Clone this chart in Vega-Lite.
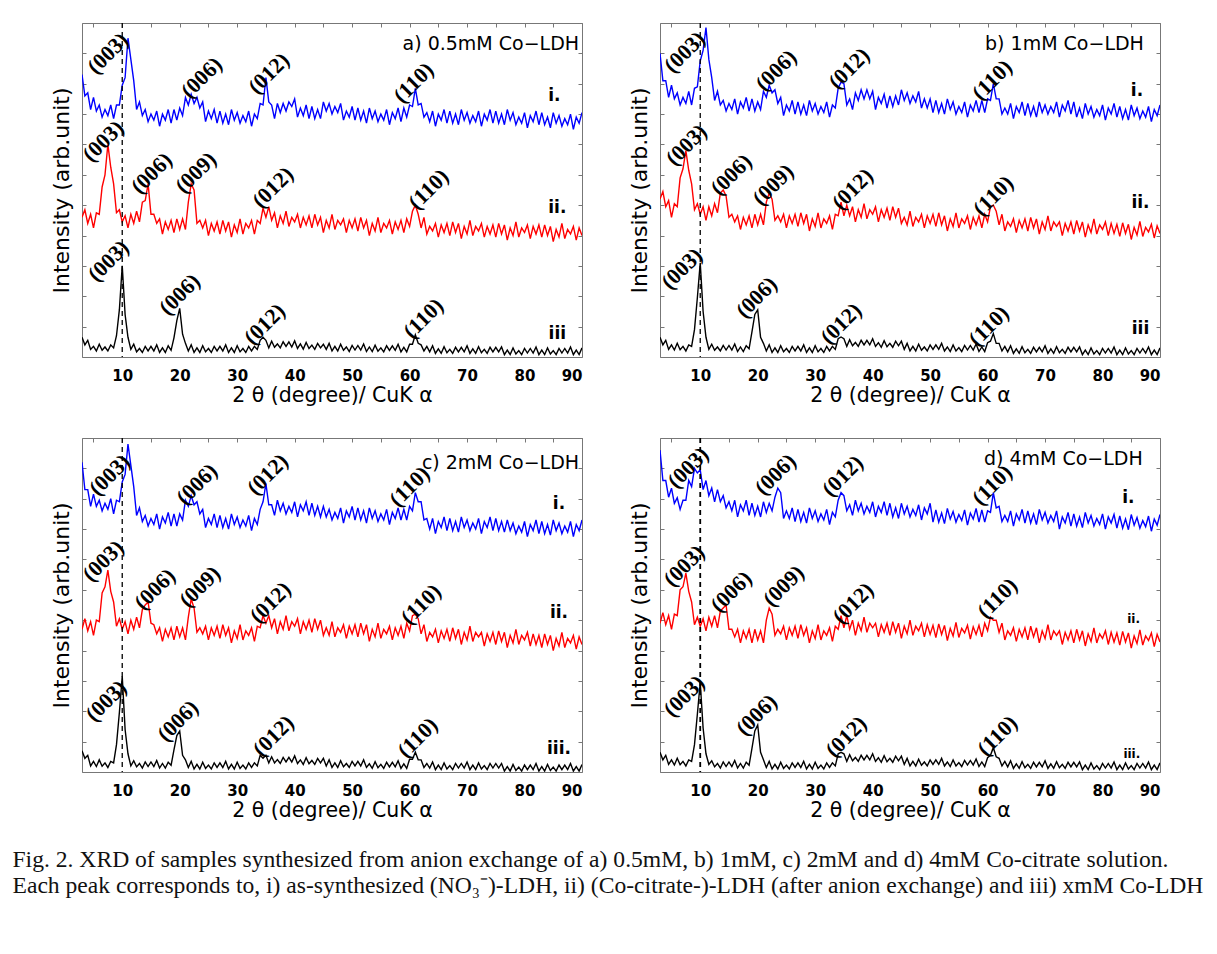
{
"$schema": "https://vega.github.io/schema/vega-lite/v6.json",
"background": "white",
"padding": {"left": 12, "top": 22, "right": 4, "bottom": 6},
"config": {"view": {"stroke": null}, "axis": {"domainColor": "#777", "tickColor": "#777", "domainWidth": 1, "tickWidth": 1, "grid": false}},
"title": {"text": ["Fig. 2. XRD of samples synthesized from anion exchange of a) 0.5mM, b) 1mM, c) 2mM and d) 4mM Co-citrate solution.", "Each peak corresponds to, i) as-synthesized (NO₃⁻)-LDH, ii) (Co-citrate-)-LDH (after anion exchange) and iii) xmM Co-LDH"], "orient": "bottom", "anchor": "start", "font": "Liberation Serif", "fontSize": 23.6, "fontWeight": "normal", "lineHeight": 26, "color": "#111", "offset": 27, "dx": -38},
"datasets": {
"a": [
{"x":3,"i":93,"ii":46,"iii":6.5},{"x":3.5,"i":86,"ii":48.5,"iii":4},{"x":4,"i":87,"ii":44,"iii":5.5},{"x":4.5,"i":81.5,"ii":47,"iii":2.5},{"x":5,"i":85.5,"ii":42.5,"iii":3.5},{"x":5.5,"i":81,"ii":47.5,"iii":2},{"x":6,"i":83,"ii":47,"iii":4.2},{"x":6.5,"i":79,"ii":56,"iii":2.2},{"x":7,"i":81.5,"ii":60,"iii":3.3},{"x":7.5,"i":79.5,"ii":70,"iii":2},
{"x":8,"i":83,"ii":62.5,"iii":4},{"x":8.5,"i":78.5,"ii":57,"iii":3},{"x":9,"i":83,"ii":47.5,"iii":7},{"x":9.5,"i":83,"ii":48.5,"iii":15.5},{"x":10,"i":89.5,"ii":44.5,"iii":30},{"x":10.5,"i":92,"ii":46.5,"iii":14},{"x":11,"i":105,"ii":42.5,"iii":6.5},{"x":11.5,"i":98,"ii":47,"iii":2.5},{"x":12,"i":91,"ii":44,"iii":4.2},{"x":12.5,"i":81.5,"ii":48,"iii":1.7},
{"x":13,"i":84,"ii":44.5,"iii":2.8},{"x":13.5,"i":79.5,"ii":51,"iii":1.5},{"x":14,"i":81.5,"ii":51.5,"iii":3.5},{"x":14.5,"i":77.5,"ii":57,"iii":2},{"x":15,"i":80,"ii":47,"iii":3.5},{"x":15.5,"i":78,"ii":47,"iii":2},{"x":16,"i":81,"ii":44,"iii":4},{"x":16.5,"i":76,"ii":45.5,"iii":1.5},{"x":17,"i":80,"ii":40.5,"iii":3},{"x":17.5,"i":78,"ii":44.5,"iii":1.5},
{"x":18,"i":81.5,"ii":42,"iii":3.7},{"x":18.5,"i":77,"ii":45,"iii":2.2},{"x":19,"i":81.5,"ii":41,"iii":6.3},{"x":19.5,"i":78,"ii":45.5,"iii":12},{"x":20,"i":82,"ii":42,"iii":16},{"x":20.5,"i":79.5,"ii":45.5,"iii":7.5},{"x":21,"i":85.5,"ii":42,"iii":4.5},{"x":21.5,"i":83,"ii":51,"iii":2},{"x":22,"i":86.5,"ii":57,"iii":4},{"x":22.5,"i":83.5,"ii":55,"iii":1.5},
{"x":23,"i":85.5,"ii":44,"iii":3},{"x":23.5,"i":82,"ii":45,"iii":1.5},{"x":24,"i":84,"ii":42.5,"iii":3.7},{"x":24.5,"i":77.5,"ii":45,"iii":1.7},{"x":25,"i":81,"ii":40,"iii":2.8},{"x":25.5,"i":78.5,"ii":44,"iii":1.5},{"x":26,"i":81.5,"ii":41.5,"iii":3.5},{"x":26.5,"i":77,"ii":44.5,"iii":2},{"x":27,"i":81,"ii":40.5,"iii":3.5},{"x":27.5,"i":77,"ii":45,"iii":2},
{"x":28,"i":80,"ii":41.5,"iii":4},{"x":28.5,"i":76.5,"ii":44.5,"iii":1.5},{"x":29,"i":81.5,"ii":39.5,"iii":3},{"x":29.5,"i":78,"ii":43.5,"iii":1.5},{"x":30,"i":80.5,"ii":41,"iii":3.7},{"x":30.5,"i":77,"ii":45.5,"iii":1.7},{"x":31,"i":79.5,"ii":40.5,"iii":2.8},{"x":31.5,"i":77.5,"ii":44,"iii":1.5},{"x":32,"i":81,"ii":42.5,"iii":3.5},{"x":32.5,"i":76,"ii":45,"iii":2},
{"x":33,"i":80,"ii":40.5,"iii":3.5},{"x":33.5,"i":78.5,"ii":45,"iii":2.5},{"x":34,"i":83.5,"ii":44,"iii":5.5},{"x":34.5,"i":83,"ii":49,"iii":6.5},{"x":35,"i":92,"ii":46,"iii":5.5},{"x":35.5,"i":84,"ii":49.5,"iii":3},{"x":36,"i":83,"ii":45,"iii":5.2},{"x":36.5,"i":78.5,"ii":47.5,"iii":3.2},{"x":37,"i":83.5,"ii":42.5,"iii":4.3},{"x":37.5,"i":80.5,"ii":46.5,"iii":3},
{"x":38,"i":83.5,"ii":44,"iii":5},{"x":38.5,"i":81,"ii":48,"iii":3.5},{"x":39,"i":84,"ii":43,"iii":5},{"x":39.5,"i":82.5,"ii":46,"iii":3.3},{"x":40,"i":85,"ii":44.5,"iii":5.3},{"x":40.5,"i":79,"ii":47,"iii":2.8},{"x":41,"i":82,"ii":42.5,"iii":4.3},{"x":41.5,"i":79.5,"ii":46,"iii":2.6},{"x":42,"i":83,"ii":43.5,"iii":4.8},{"x":42.5,"i":78.5,"ii":46.5,"iii":2.8},
{"x":43,"i":82.5,"ii":42.5,"iii":3.9},{"x":43.5,"i":78.5,"ii":47,"iii":2.5},{"x":44,"i":81.5,"ii":43.5,"iii":4.5},{"x":44.5,"i":78.5,"ii":46,"iii":3},{"x":45,"i":84,"ii":41,"iii":4.2},{"x":45.5,"i":81,"ii":45,"iii":2.5},{"x":46,"i":83.5,"ii":42.5,"iii":4.5},{"x":46.5,"i":80,"ii":47,"iii":2},{"x":47,"i":82.5,"ii":42,"iii":3.5},{"x":47.5,"i":80.5,"ii":45,"iii":2},
{"x":48,"i":83.5,"ii":43.5,"iii":4.2},{"x":48.5,"i":78,"ii":45.5,"iii":2.2},{"x":49,"i":81,"ii":41,"iii":3.3},{"x":49.5,"i":79,"ii":45,"iii":1.8},{"x":50,"i":82.5,"ii":42.5,"iii":3.8},{"x":50.5,"i":78,"ii":45.5,"iii":2.3},{"x":51,"i":82,"ii":41.5,"iii":3.8},{"x":51.5,"i":78,"ii":46,"iii":2.3},{"x":52,"i":81,"ii":42.5,"iii":4.3},{"x":52.5,"i":77,"ii":45,"iii":1.8},
{"x":53,"i":82,"ii":40,"iii":3.3},{"x":53.5,"i":78.5,"ii":44,"iii":1.8},{"x":54,"i":81,"ii":41.5,"iii":3.9},{"x":54.5,"i":77.5,"ii":46,"iii":1.9},{"x":55,"i":80,"ii":41,"iii":3},{"x":55.5,"i":78,"ii":44,"iii":1.7},{"x":56,"i":81.5,"ii":42.5,"iii":3.7},{"x":56.5,"i":76.5,"ii":45,"iii":2.2},{"x":57,"i":80.5,"ii":40.5,"iii":3.7},{"x":57.5,"i":78.5,"ii":44.5,"iii":2.2},
{"x":58,"i":82,"ii":42,"iii":4.2},{"x":58.5,"i":77.5,"ii":45,"iii":1.7},{"x":59,"i":82,"ii":41,"iii":3.2},{"x":59.5,"i":79,"ii":45.5,"iii":1.7},{"x":60,"i":83,"ii":43,"iii":4.2},{"x":60.5,"i":82.5,"ii":48,"iii":4.2},{"x":61,"i":88.5,"ii":50,"iii":7.3},{"x":61.5,"i":83,"ii":47,"iii":4.5},{"x":62,"i":83.5,"ii":42.5,"iii":4},{"x":62.5,"i":79,"ii":46,"iii":2},
{"x":63,"i":80.5,"ii":40.5,"iii":3.5},{"x":63.5,"i":77.5,"ii":43,"iii":1.7},{"x":64,"i":81,"ii":41.5,"iii":3.7},{"x":64.5,"i":76,"ii":44,"iii":1.2},{"x":65,"i":80,"ii":39.5,"iii":2.7},{"x":65.5,"i":78,"ii":43.5,"iii":1.2},{"x":66,"i":81.5,"ii":41,"iii":3.4},{"x":66.5,"i":77,"ii":44,"iii":1.4},{"x":67,"i":81,"ii":40,"iii":2.5},{"x":67.5,"i":77,"ii":44.5,"iii":1.2},
{"x":68,"i":80,"ii":41,"iii":3.2},{"x":68.5,"i":76.5,"ii":44,"iii":1.7},{"x":69,"i":81.5,"ii":39,"iii":3.2},{"x":69.5,"i":78,"ii":43,"iii":1.7},{"x":70,"i":80.5,"ii":40.5,"iii":3.7},{"x":70.5,"i":77,"ii":45,"iii":1.2},{"x":71,"i":79.5,"ii":40,"iii":2.7},{"x":71.5,"i":77.5,"ii":43,"iii":1.2},{"x":72,"i":81,"ii":41.5,"iii":3.4},{"x":72.5,"i":76,"ii":44,"iii":1.4},
{"x":73,"i":80,"ii":39.5,"iii":2.5},{"x":73.5,"i":78,"ii":43,"iii":1.2},{"x":74,"i":81.5,"ii":40.5,"iii":3.2},{"x":74.5,"i":77,"ii":43.5,"iii":1.7},{"x":75,"i":81,"ii":39.5,"iii":3.2},{"x":75.5,"i":77,"ii":44,"iii":1.7},{"x":76,"i":80,"ii":40.5,"iii":3.3},{"x":76.5,"i":76.5,"ii":43.5,"iii":0.8},{"x":77,"i":81.5,"ii":38.5,"iii":2.3},{"x":77.5,"i":78,"ii":42.5,"iii":0.8},
{"x":78,"i":80.5,"ii":40,"iii":3},{"x":78.5,"i":76.5,"ii":44.5,"iii":1},{"x":79,"i":79,"ii":39.5,"iii":2.1},{"x":79.5,"i":77,"ii":42.5,"iii":0.8},{"x":80,"i":80.5,"ii":41,"iii":2.8},{"x":80.5,"i":75.5,"ii":43.5,"iii":1.3},{"x":81,"i":79.5,"ii":39,"iii":2.8},{"x":81.5,"i":77.5,"ii":43,"iii":1.3},{"x":82,"i":81,"ii":40.5,"iii":3.3},{"x":82.5,"i":76.5,"ii":43.5,"iii":0.8},
{"x":83,"i":80.5,"ii":39.5,"iii":2.3},{"x":83.5,"i":76.5,"ii":43.5,"iii":0.8},{"x":84,"i":79,"ii":40,"iii":3},{"x":84.5,"i":75.5,"ii":43,"iii":1},{"x":85,"i":80.5,"ii":38,"iii":2.1},{"x":85.5,"i":77,"ii":42,"iii":0.8},{"x":86,"i":79.5,"ii":39.5,"iii":2.8},{"x":86.5,"i":76,"ii":44,"iii":1.3},{"x":87,"i":78.5,"ii":39,"iii":2.8},{"x":87.5,"i":76.5,"ii":42,"iii":1.3},
{"x":88,"i":80,"ii":40.5,"iii":3.3},{"x":88.5,"i":75,"ii":43,"iii":0.8},{"x":89,"i":79,"ii":38.5,"iii":2.3},{"x":89.5,"i":77,"ii":42.5,"iii":0.8},{"x":90,"i":80.5,"ii":40,"iii":3}
],
"b": [
{"x":3,"i":100,"ii":52,"iii":6.5},{"x":3.5,"i":91,"ii":54.5,"iii":4},{"x":4,"i":91,"ii":49.5,"iii":5.5},{"x":4.5,"i":85.5,"ii":51.5,"iii":2.5},{"x":5,"i":89.5,"ii":46,"iii":4},{"x":5.5,"i":85,"ii":50.5,"iii":2.3},{"x":6,"i":87,"ii":49.5,"iii":4.5},{"x":6.5,"i":83,"ii":59,"iii":2.4},{"x":7,"i":85.5,"ii":62,"iii":3.5},{"x":7.5,"i":83.5,"ii":68,"iii":2},
{"x":8,"i":87.5,"ii":61.5,"iii":4},{"x":8.5,"i":83,"ii":57,"iii":3.5},{"x":9,"i":88.5,"ii":48.5,"iii":9},{"x":9.5,"i":89,"ii":50.5,"iii":19.5},{"x":10,"i":97.5,"ii":47,"iii":31},{"x":10.5,"i":101,"ii":49.5,"iii":15},{"x":11,"i":108.5,"ii":45,"iii":6.5},{"x":11.5,"i":98,"ii":49.5,"iii":2.5},{"x":12,"i":92,"ii":46.5,"iii":4.2},{"x":12.5,"i":84.5,"ii":50.5,"iii":2.2},
{"x":13,"i":87.5,"ii":47.5,"iii":3.3},{"x":13.5,"i":83,"ii":54,"iii":2},{"x":14,"i":84.5,"ii":55,"iii":3.8},{"x":14.5,"i":81,"ii":53,"iii":2.3},{"x":15,"i":83.5,"ii":46,"iii":3.8},{"x":15.5,"i":81.5,"ii":47,"iii":2.3},{"x":16,"i":85,"ii":44.5,"iii":4.3},{"x":16.5,"i":80,"ii":46.5,"iii":1.8},{"x":17,"i":84,"ii":42,"iii":3.3},{"x":17.5,"i":82,"ii":46,"iii":1.8},
{"x":18,"i":85.5,"ii":43.5,"iii":3.7},{"x":18.5,"i":81,"ii":46.5,"iii":2.7},{"x":19,"i":85,"ii":42.5,"iii":8.3},{"x":19.5,"i":81,"ii":47,"iii":14},{"x":20,"i":84,"ii":43.5,"iii":15.5},{"x":20.5,"i":81.5,"ii":47,"iii":6.5},{"x":21,"i":87.5,"ii":43.5,"iii":4.5},{"x":21.5,"i":85.5,"ii":51,"iii":2},{"x":22,"i":89.5,"ii":54,"iii":4},{"x":22.5,"i":87,"ii":52,"iii":1.5},
{"x":23,"i":88,"ii":45,"iii":3},{"x":23.5,"i":83.5,"ii":46.5,"iii":1.5},{"x":24,"i":85.5,"ii":44.5,"iii":3.7},{"x":24.5,"i":79.5,"ii":47,"iii":1.7},{"x":25,"i":83,"ii":42.5,"iii":2.8},{"x":25.5,"i":81,"ii":46.5,"iii":1.5},{"x":26,"i":84.5,"ii":44,"iii":3.5},{"x":26.5,"i":80,"ii":47,"iii":2},{"x":27,"i":84,"ii":43,"iii":3.5},{"x":27.5,"i":80,"ii":47.5,"iii":2},
{"x":28,"i":83,"ii":44,"iii":4},{"x":28.5,"i":79.5,"ii":47,"iii":1.5},{"x":29,"i":84.5,"ii":41.5,"iii":3},{"x":29.5,"i":81,"ii":45.5,"iii":1.5},{"x":30,"i":83.5,"ii":43,"iii":3.7},{"x":30.5,"i":80,"ii":47.5,"iii":1.7},{"x":31,"i":82.5,"ii":42.5,"iii":2.8},{"x":31.5,"i":80.5,"ii":45.5,"iii":1.5},{"x":32,"i":84,"ii":44,"iii":3.5},{"x":32.5,"i":79,"ii":46.5,"iii":2},
{"x":33,"i":83,"ii":42,"iii":3.5},{"x":33.5,"i":82,"ii":47,"iii":2.5},{"x":34,"i":88.5,"ii":46.5,"iii":6},{"x":34.5,"i":90.5,"ii":51,"iii":6.6},{"x":35,"i":90,"ii":46.5,"iii":6},{"x":35.5,"i":83,"ii":50,"iii":3.5},{"x":36,"i":85,"ii":46.5,"iii":5.7},{"x":36.5,"i":81.5,"ii":49.5,"iii":3.7},{"x":37,"i":87,"ii":44.5,"iii":4.8},{"x":37.5,"i":84.5,"ii":48.5,"iii":3.5},
{"x":38,"i":88,"ii":46,"iii":5.5},{"x":38.5,"i":85,"ii":50.5,"iii":4},{"x":39,"i":88,"ii":45.5,"iii":5.5},{"x":39.5,"i":85,"ii":48.5,"iii":4},{"x":40,"i":87.5,"ii":47,"iii":6},{"x":40.5,"i":81.5,"ii":49.5,"iii":3.5},{"x":41,"i":85.5,"ii":44.5,"iii":4.7},{"x":41.5,"i":83.5,"ii":48.5,"iii":3.2},{"x":42,"i":86.5,"ii":46,"iii":5.4},{"x":42.5,"i":82,"ii":49,"iii":3.4},
{"x":43,"i":86,"ii":45,"iii":4.5},{"x":43.5,"i":82.5,"ii":49.5,"iii":3.2},{"x":44,"i":86,"ii":46,"iii":5.2},{"x":44.5,"i":83,"ii":49,"iii":3.7},{"x":45,"i":88,"ii":44,"iii":5.2},{"x":45.5,"i":84.5,"ii":46,"iii":2.5},{"x":46,"i":87,"ii":43.5,"iii":4.5},{"x":46.5,"i":83.5,"ii":48,"iii":2},{"x":47,"i":86,"ii":43,"iii":3.5},{"x":47.5,"i":84,"ii":46,"iii":2},
{"x":48,"i":87.5,"ii":44.5,"iii":4.2},{"x":48.5,"i":82,"ii":47,"iii":2.2},{"x":49,"i":85,"ii":42.5,"iii":3.3},{"x":49.5,"i":82,"ii":46.5,"iii":2},{"x":50,"i":85,"ii":44,"iii":4},{"x":50.5,"i":80.5,"ii":47,"iii":2.5},{"x":51,"i":84.5,"ii":43,"iii":4},{"x":51.5,"i":80.5,"ii":47.5,"iii":2.5},{"x":52,"i":83.5,"ii":43.5,"iii":4.5},{"x":52.5,"i":80,"ii":46.5,"iii":2},
{"x":53,"i":85,"ii":41.5,"iii":3.3},{"x":53.5,"i":81.5,"ii":45.5,"iii":1.8},{"x":54,"i":84,"ii":43,"iii":4},{"x":54.5,"i":80,"ii":47.5,"iii":2},{"x":55,"i":82.5,"ii":42.5,"iii":3.1},{"x":55.5,"i":80.5,"ii":45.5,"iii":1.8},{"x":56,"i":84,"ii":44,"iii":3.8},{"x":56.5,"i":79,"ii":46.5,"iii":2.3},{"x":57,"i":83,"ii":42,"iii":3.8},{"x":57.5,"i":81,"ii":46,"iii":2.3},
{"x":58,"i":84.5,"ii":43.5,"iii":4.3},{"x":58.5,"i":80.5,"ii":46.5,"iii":1.8},{"x":59,"i":84.5,"ii":42.5,"iii":3.3},{"x":59.5,"i":80.5,"ii":47,"iii":1.8},{"x":60,"i":85,"ii":44.5,"iii":4.7},{"x":60.5,"i":84.5,"ii":49.5,"iii":5.2},{"x":61,"i":90,"ii":50,"iii":7.7},{"x":61.5,"i":85,"ii":48,"iii":4.5},{"x":62,"i":85,"ii":43.5,"iii":4.5},{"x":62.5,"i":80,"ii":47,"iii":2},
{"x":63,"i":82,"ii":41.5,"iii":3.5},{"x":63.5,"i":80,"ii":44.5,"iii":1.7},{"x":64,"i":83.5,"ii":43,"iii":3.7},{"x":64.5,"i":78.5,"ii":45.5,"iii":1.2},{"x":65,"i":82.5,"ii":41,"iii":2.7},{"x":65.5,"i":80.5,"ii":45,"iii":1.2},{"x":66,"i":84,"ii":42.5,"iii":3.4},{"x":66.5,"i":79.5,"ii":45.5,"iii":1.4},{"x":67,"i":83.5,"ii":41.5,"iii":2.5},{"x":67.5,"i":79.5,"ii":46,"iii":1.2},
{"x":68,"i":82.5,"ii":42.5,"iii":3.2},{"x":68.5,"i":79,"ii":45.5,"iii":1.7},{"x":69,"i":84,"ii":40.5,"iii":3.2},{"x":69.5,"i":80.5,"ii":44.5,"iii":1.7},{"x":70,"i":83,"ii":42,"iii":3.7},{"x":70.5,"i":80,"ii":46.5,"iii":1.2},{"x":71,"i":82.5,"ii":41.5,"iii":2.7},{"x":71.5,"i":80.5,"ii":44.5,"iii":1.2},{"x":72,"i":84,"ii":43,"iii":3.4},{"x":72.5,"i":79,"ii":44.5,"iii":1.4},
{"x":73,"i":83,"ii":40,"iii":2.5},{"x":73.5,"i":81,"ii":44,"iii":1.2},{"x":74,"i":84.5,"ii":41.5,"iii":3.2},{"x":74.5,"i":80,"ii":44.5,"iii":1.7},{"x":75,"i":84,"ii":40.5,"iii":3.2},{"x":75.5,"i":79,"ii":45,"iii":1.7},{"x":76,"i":82,"ii":41.5,"iii":3.3},{"x":76.5,"i":78.5,"ii":44.5,"iii":0.8},{"x":77,"i":83.5,"ii":39.5,"iii":2.3},{"x":77.5,"i":80,"ii":43.5,"iii":0.8},
{"x":78,"i":82.5,"ii":41,"iii":3},{"x":78.5,"i":79,"ii":45.5,"iii":1},{"x":79,"i":81.5,"ii":40.5,"iii":2.1},{"x":79.5,"i":79.5,"ii":43.5,"iii":0.8},{"x":80,"i":83,"ii":42,"iii":2.8},{"x":80.5,"i":78,"ii":44.5,"iii":1.3},{"x":81,"i":82,"ii":40,"iii":2.8},{"x":81.5,"i":80,"ii":44,"iii":1.3},{"x":82,"i":83.5,"ii":40.7,"iii":3.3},{"x":82.5,"i":79,"ii":43.7,"iii":0.8},
{"x":83,"i":82.5,"ii":39.7,"iii":2.3},{"x":83.5,"i":78.5,"ii":44.2,"iii":0.8},{"x":84,"i":81.5,"ii":40.7,"iii":3},{"x":84.5,"i":78,"ii":43.7,"iii":1},{"x":85,"i":83,"ii":38.7,"iii":2.1},{"x":85.5,"i":79.5,"ii":42.7,"iii":0.8},{"x":86,"i":82,"ii":40.2,"iii":2.8},{"x":86.5,"i":78.5,"ii":44.7,"iii":1.3},{"x":87,"i":81,"ii":39.7,"iii":2.8},{"x":87.5,"i":79,"ii":42.7,"iii":1.3},
{"x":88,"i":82.5,"ii":41.2,"iii":3.3},{"x":88.5,"i":77.5,"ii":43.7,"iii":0.8},{"x":89,"i":81.5,"ii":39.2,"iii":2.3},{"x":89.5,"i":79.5,"ii":43.2,"iii":0.8},{"x":90,"i":83,"ii":40.7,"iii":3}
],
"c": [
{"x":3,"i":102,"ii":47,"iii":7},{"x":3.5,"i":93,"ii":50.5,"iii":4.5},{"x":4,"i":93,"ii":46.5,"iii":5.5},{"x":4.5,"i":87.5,"ii":49.5,"iii":2},{"x":5,"i":91.5,"ii":45,"iii":3.5},{"x":5.5,"i":87.5,"ii":50,"iii":1.8},{"x":6,"i":89.5,"ii":49.5,"iii":4},{"x":6.5,"i":86,"ii":59,"iii":1.9},{"x":7,"i":88.5,"ii":61,"iii":3},{"x":7.5,"i":86.5,"ii":66.5,"iii":1.5},
{"x":8,"i":90,"ii":59.5,"iii":3.5},{"x":8.5,"i":85,"ii":56,"iii":3},{"x":9,"i":89.5,"ii":48,"iii":9},{"x":9.5,"i":89,"ii":50.5,"iii":19.5},{"x":10,"i":95.5,"ii":47,"iii":31.5},{"x":10.5,"i":98,"ii":49.5,"iii":14},{"x":11,"i":108,"ii":45.5,"iii":6},{"x":11.5,"i":101,"ii":50,"iii":2},{"x":12,"i":94,"ii":47,"iii":3.7},{"x":12.5,"i":84.5,"ii":51,"iii":1.7},
{"x":13,"i":87,"ii":47.5,"iii":2.8},{"x":13.5,"i":82.5,"ii":53.5,"iii":1.3},{"x":14,"i":84.5,"ii":55,"iii":3.3},{"x":14.5,"i":81,"ii":56,"iii":1.8},{"x":15,"i":83.5,"ii":49,"iii":3.3},{"x":15.5,"i":81.5,"ii":48.5,"iii":1.8},{"x":16,"i":85,"ii":45.5,"iii":3.8},{"x":16.5,"i":80,"ii":47.5,"iii":1.3},{"x":17,"i":84,"ii":43,"iii":2.8},{"x":17.5,"i":82,"ii":47,"iii":1.3},
{"x":18,"i":85.5,"ii":44.5,"iii":3.2},{"x":18.5,"i":81,"ii":47.5,"iii":2.2},{"x":19,"i":85,"ii":43.5,"iii":7.3},{"x":19.5,"i":81,"ii":48,"iii":12},{"x":20,"i":85,"ii":44.5,"iii":13.5},{"x":20.5,"i":83,"ii":47.5,"iii":5.5},{"x":21,"i":89.5,"ii":43.5,"iii":4},{"x":21.5,"i":87.5,"ii":51,"iii":1.5},{"x":22,"i":91,"ii":57,"iii":3.5},{"x":22.5,"i":88,"ii":54,"iii":1},
{"x":23,"i":89,"ii":46,"iii":2.5},{"x":23.5,"i":85,"ii":47.5,"iii":1},{"x":24,"i":86.5,"ii":45.5,"iii":3.2},{"x":24.5,"i":80.5,"ii":48,"iii":1.2},{"x":25,"i":83.5,"ii":43.5,"iii":2.3},{"x":25.5,"i":81.5,"ii":47.5,"iii":1},{"x":26,"i":85,"ii":45,"iii":3},{"x":26.5,"i":80.5,"ii":48,"iii":1.5},{"x":27,"i":84.5,"ii":44,"iii":3},{"x":27.5,"i":80.5,"ii":48.5,"iii":1.5},
{"x":28,"i":83.5,"ii":45,"iii":3.5},{"x":28.5,"i":80,"ii":47.5,"iii":1},{"x":29,"i":85,"ii":42.5,"iii":2.5},{"x":29.5,"i":81.5,"ii":46.5,"iii":1},{"x":30,"i":84,"ii":44,"iii":3.2},{"x":30.5,"i":80.5,"ii":48.5,"iii":1.2},{"x":31,"i":83,"ii":43.5,"iii":2.3},{"x":31.5,"i":81,"ii":46.5,"iii":1},{"x":32,"i":84.5,"ii":45,"iii":3},{"x":32.5,"i":79.5,"ii":47.5,"iii":1.5},
{"x":33,"i":83.5,"ii":43,"iii":3},{"x":33.5,"i":81.5,"ii":48,"iii":2},{"x":34,"i":86.5,"ii":47.5,"iii":5.5},{"x":34.5,"i":89,"ii":51.5,"iii":4.5},{"x":35,"i":95,"ii":49,"iii":5.5},{"x":35.5,"i":88,"ii":51.5,"iii":3},{"x":36,"i":88,"ii":47.5,"iii":5},{"x":36.5,"i":84.5,"ii":50.5,"iii":3},{"x":37,"i":89.5,"ii":45.5,"iii":4.1},{"x":37.5,"i":86,"ii":49.5,"iii":2.8},
{"x":38,"i":88.5,"ii":47,"iii":4.8},{"x":38.5,"i":85,"ii":51.5,"iii":3.3},{"x":39,"i":87.5,"ii":46.5,"iii":4.8},{"x":39.5,"i":85.5,"ii":49.5,"iii":3.3},{"x":40,"i":89,"ii":48,"iii":5.3},{"x":40.5,"i":84,"ii":50.5,"iii":2.8},{"x":41,"i":88,"ii":45.5,"iii":4},{"x":41.5,"i":86,"ii":49.5,"iii":2.5},{"x":42,"i":89,"ii":47,"iii":4.7},{"x":42.5,"i":84.5,"ii":50,"iii":2.7},
{"x":43,"i":88.5,"ii":46,"iii":3.8},{"x":43.5,"i":84.5,"ii":50.5,"iii":2.5},{"x":44,"i":87.5,"ii":47,"iii":4.5},{"x":44.5,"i":84,"ii":50,"iii":3},{"x":45,"i":87.5,"ii":45,"iii":4.5},{"x":45.5,"i":84,"ii":47.5,"iii":2},{"x":46,"i":86.5,"ii":45,"iii":4},{"x":46.5,"i":83,"ii":49.5,"iii":1.5},{"x":47,"i":85.5,"ii":44.5,"iii":3},{"x":47.5,"i":83.5,"ii":47.5,"iii":1.5},
{"x":48,"i":87,"ii":46,"iii":3.7},{"x":48.5,"i":82,"ii":48.5,"iii":1.7},{"x":49,"i":86,"ii":44,"iii":2.8},{"x":49.5,"i":84,"ii":48,"iii":1.5},{"x":50,"i":87.5,"ii":45.5,"iii":3.5},{"x":50.5,"i":83,"ii":48.5,"iii":2},{"x":51,"i":87,"ii":44.5,"iii":3.5},{"x":51.5,"i":83,"ii":49,"iii":2},{"x":52,"i":86,"ii":45.5,"iii":4},{"x":52.5,"i":82,"ii":48.5,"iii":1.5},
{"x":53,"i":87,"ii":43,"iii":2.7},{"x":53.5,"i":83.5,"ii":47,"iii":1.2},{"x":54,"i":86,"ii":44.5,"iii":3.4},{"x":54.5,"i":82.5,"ii":49,"iii":1.4},{"x":55,"i":85,"ii":44,"iii":2.5},{"x":55.5,"i":83,"ii":47,"iii":1.2},{"x":56,"i":86.5,"ii":45.5,"iii":3.2},{"x":56.5,"i":81.5,"ii":48,"iii":1.7},{"x":57,"i":85.5,"ii":43.5,"iii":3.2},{"x":57.5,"i":83.5,"ii":47.5,"iii":1.7},
{"x":58,"i":87,"ii":45,"iii":3.7},{"x":58.5,"i":83,"ii":48,"iii":1.2},{"x":59,"i":86.5,"ii":44,"iii":2.7},{"x":59.5,"i":83,"ii":49,"iii":1.2},{"x":60,"i":87.5,"ii":46.5,"iii":4.2},{"x":60.5,"i":86,"ii":51.5,"iii":4.2},{"x":61,"i":92,"ii":52,"iii":6.5},{"x":61.5,"i":89,"ii":50.5,"iii":4},{"x":62,"i":89,"ii":45.5,"iii":4},{"x":62.5,"i":83,"ii":48.5,"iii":1.5},
{"x":63,"i":83.5,"ii":43,"iii":2.8},{"x":63.5,"i":80,"ii":46,"iii":1.3},{"x":64,"i":83.5,"ii":44.5,"iii":3.3},{"x":64.5,"i":78.5,"ii":47,"iii":0.8},{"x":65,"i":82.5,"ii":42.5,"iii":2.3},{"x":65.5,"i":80.5,"ii":46.5,"iii":0.8},{"x":66,"i":84,"ii":44,"iii":3},{"x":66.5,"i":79.5,"ii":47,"iii":1},{"x":67,"i":83.5,"ii":43,"iii":2.1},{"x":67.5,"i":79.5,"ii":47.5,"iii":0.8},
{"x":68,"i":82.5,"ii":44,"iii":2.8},{"x":68.5,"i":79,"ii":47,"iii":1.3},{"x":69,"i":84,"ii":42,"iii":2.8},{"x":69.5,"i":80.5,"ii":46,"iii":1.3},{"x":70,"i":83,"ii":43.5,"iii":3.3},{"x":70.5,"i":79.5,"ii":48,"iii":0.8},{"x":71,"i":82,"ii":43,"iii":2.3},{"x":71.5,"i":80,"ii":46,"iii":0.8},{"x":72,"i":83.5,"ii":44.5,"iii":3},{"x":72.5,"i":78.5,"ii":46,"iii":1},
{"x":73,"i":82.5,"ii":41.5,"iii":2.1},{"x":73.5,"i":80.5,"ii":45.5,"iii":0.8},{"x":74,"i":84,"ii":43,"iii":2.8},{"x":74.5,"i":79.5,"ii":46,"iii":1.3},{"x":75,"i":83.5,"ii":42,"iii":2.8},{"x":75.5,"i":79.5,"ii":46.5,"iii":1.3},{"x":76,"i":82.5,"ii":43,"iii":2.8},{"x":76.5,"i":79,"ii":46,"iii":0.3},{"x":77,"i":83,"ii":41,"iii":1.8},{"x":77.5,"i":79.5,"ii":45,"iii":0.3},
{"x":78,"i":82,"ii":42.5,"iii":2.5},{"x":78.5,"i":78.5,"ii":47,"iii":0.5},{"x":79,"i":81,"ii":42,"iii":1.6},{"x":79.5,"i":79,"ii":45,"iii":0.3},{"x":80,"i":82.5,"ii":43.5,"iii":2.3},{"x":80.5,"i":77.5,"ii":46,"iii":0.8},{"x":81,"i":81.5,"ii":41.5,"iii":2.3},{"x":81.5,"i":79.5,"ii":45.5,"iii":0.8},{"x":82,"i":83,"ii":42,"iii":2.8},{"x":82.5,"i":78.5,"ii":45,"iii":0.3},
{"x":83,"i":82.5,"ii":41,"iii":1.8},{"x":83.5,"i":78.5,"ii":45.5,"iii":0.3},{"x":84,"i":81.5,"ii":42,"iii":2.5},{"x":84.5,"i":78,"ii":45,"iii":0.5},{"x":85,"i":83,"ii":40,"iii":1.6},{"x":85.5,"i":79.5,"ii":44,"iii":0.3},{"x":86,"i":82,"ii":41.5,"iii":2.3},{"x":86.5,"i":78.5,"ii":46,"iii":0.8},{"x":87,"i":81,"ii":41,"iii":2.3},{"x":87.5,"i":79,"ii":44,"iii":0.8},
{"x":88,"i":82.5,"ii":42.5,"iii":2.8},{"x":88.5,"i":77.5,"ii":45,"iii":0.3},{"x":89,"i":81.5,"ii":40.5,"iii":1.8},{"x":89.5,"i":79.5,"ii":44.5,"iii":0.3},{"x":90,"i":83,"ii":42,"iii":2.5}
],
"d": [
{"x":3,"i":106,"ii":49,"iii":6.5},{"x":3.5,"i":96,"ii":52.5,"iii":4},{"x":4,"i":96,"ii":48.5,"iii":5.5},{"x":4.5,"i":90.5,"ii":51.5,"iii":2.5},{"x":5,"i":93.5,"ii":47,"iii":4},{"x":5.5,"i":88.5,"ii":52,"iii":2.3},{"x":6,"i":90.3,"ii":51.5,"iii":4.5},{"x":6.5,"i":86.5,"ii":60,"iii":2.4},{"x":7,"i":89.5,"ii":61,"iii":3.5},{"x":7.5,"i":89.5,"ii":65.5,"iii":2},
{"x":8,"i":96,"ii":59.5,"iii":4},{"x":8.5,"i":94,"ii":56,"iii":3.5},{"x":9,"i":100,"ii":48.5,"iii":9},{"x":9.5,"i":98.5,"ii":51,"iii":19},{"x":10,"i":99.5,"ii":48,"iii":29.5},{"x":10.5,"i":93,"ii":50.5,"iii":14.5},{"x":11,"i":96,"ii":46.5,"iii":6},{"x":11.5,"i":91,"ii":51,"iii":2.5},{"x":12,"i":93.5,"ii":48,"iii":3.7},{"x":12.5,"i":89,"ii":51.5,"iii":1.7},
{"x":13,"i":93,"ii":47.5,"iii":2.8},{"x":13.5,"i":89,"ii":53,"iii":1.3},{"x":14,"i":91,"ii":54,"iii":3.3},{"x":14.5,"i":87,"ii":55,"iii":1.8},{"x":15,"i":89,"ii":47,"iii":3.3},{"x":15.5,"i":86,"ii":47,"iii":1.8},{"x":16,"i":89.5,"ii":44.5,"iii":3.8},{"x":16.5,"i":84,"ii":47,"iii":1.3},{"x":17,"i":88,"ii":42.5,"iii":2.8},{"x":17.5,"i":86,"ii":46.5,"iii":1.3},
{"x":18,"i":89.5,"ii":44,"iii":3.2},{"x":18.5,"i":84.5,"ii":47,"iii":2.2},{"x":19,"i":88.5,"ii":42.5,"iii":7.8},{"x":19.5,"i":84.5,"ii":47,"iii":13.5},{"x":20,"i":87.5,"ii":43.5,"iii":15.5},{"x":20.5,"i":84,"ii":46.5,"iii":6.5},{"x":21,"i":89,"ii":42.5,"iii":4},{"x":21.5,"i":85.5,"ii":50,"iii":1.5},{"x":22,"i":88.5,"ii":54,"iii":3.5},{"x":22.5,"i":86,"ii":52,"iii":1},
{"x":23,"i":90.5,"ii":45,"iii":2.5},{"x":23.5,"i":93.5,"ii":47,"iii":1},{"x":24,"i":92,"ii":45.5,"iii":3.2},{"x":24.5,"i":83.5,"ii":48,"iii":1.2},{"x":25,"i":86,"ii":43.5,"iii":2.3},{"x":25.5,"i":83.5,"ii":47.5,"iii":1},{"x":26,"i":87,"ii":45,"iii":3},{"x":26.5,"i":82.5,"ii":48,"iii":1.5},{"x":27,"i":86.5,"ii":44,"iii":3},{"x":27.5,"i":82.5,"ii":48.5,"iii":1.5},
{"x":28,"i":85.5,"ii":45,"iii":3.5},{"x":28.5,"i":82,"ii":47.5,"iii":1},{"x":29,"i":87,"ii":42.5,"iii":2.5},{"x":29.5,"i":83.5,"ii":46.5,"iii":1},{"x":30,"i":86,"ii":44,"iii":3.2},{"x":30.5,"i":82.5,"ii":48.5,"iii":1.2},{"x":31,"i":85,"ii":43.5,"iii":2.3},{"x":31.5,"i":83,"ii":46.5,"iii":1},{"x":32,"i":86.5,"ii":45,"iii":3},{"x":32.5,"i":81.5,"ii":47.5,"iii":1.5},
{"x":33,"i":85.5,"ii":43,"iii":3},{"x":33.5,"i":84,"ii":48,"iii":2},{"x":34,"i":89.5,"ii":47,"iii":6},{"x":34.5,"i":92,"ii":51.5,"iii":6.5},{"x":35,"i":91,"ii":47.5,"iii":6},{"x":35.5,"i":86,"ii":51.5,"iii":3.5},{"x":36,"i":88,"ii":47,"iii":5.7},{"x":36.5,"i":84.5,"ii":50,"iii":3.7},{"x":37,"i":89.5,"ii":45,"iii":4.8},{"x":37.5,"i":86,"ii":49,"iii":3.5},
{"x":38,"i":88.5,"ii":46.5,"iii":5.5},{"x":38.5,"i":85,"ii":51,"iii":4},{"x":39,"i":87.5,"ii":46,"iii":5.5},{"x":39.5,"i":85.5,"ii":49,"iii":4},{"x":40,"i":89,"ii":47.5,"iii":6},{"x":40.5,"i":84,"ii":49,"iii":3.5},{"x":41,"i":87.5,"ii":44.5,"iii":4.7},{"x":41.5,"i":85.5,"ii":48.5,"iii":3.2},{"x":42,"i":89,"ii":46,"iii":5.4},{"x":42.5,"i":84.5,"ii":49,"iii":3.4},
{"x":43,"i":88.5,"ii":45,"iii":4.5},{"x":43.5,"i":84,"ii":49.5,"iii":3.2},{"x":44,"i":87,"ii":46,"iii":5.2},{"x":44.5,"i":83.5,"ii":49,"iii":3.7},{"x":45,"i":88.5,"ii":44,"iii":5.2},{"x":45.5,"i":85,"ii":48,"iii":2.5},{"x":46,"i":87.5,"ii":45.5,"iii":4.5},{"x":46.5,"i":84,"ii":50,"iii":2},{"x":47,"i":86.5,"ii":45,"iii":3.5},{"x":47.5,"i":84.5,"ii":48,"iii":2},
{"x":48,"i":88,"ii":46.5,"iii":4.2},{"x":48.5,"i":83,"ii":49,"iii":2.2},{"x":49,"i":87,"ii":44.5,"iii":3.3},{"x":49.5,"i":85,"ii":48.5,"iii":2},{"x":50,"i":88.5,"ii":45.3,"iii":4},{"x":50.5,"i":82.3,"ii":48.3,"iii":2.5},{"x":51,"i":86.3,"ii":44.3,"iii":4},{"x":51.5,"i":82.3,"ii":48.8,"iii":2.5},{"x":52,"i":85.3,"ii":45.3,"iii":4.5},{"x":52.5,"i":81.8,"ii":48.3,"iii":2},
{"x":53,"i":86.8,"ii":43.3,"iii":3.3},{"x":53.5,"i":83.3,"ii":47.3,"iii":1.8},{"x":54,"i":85.8,"ii":44.8,"iii":4},{"x":54.5,"i":82.3,"ii":49.3,"iii":2},{"x":55,"i":84.8,"ii":44.3,"iii":3.1},{"x":55.5,"i":82.8,"ii":47.3,"iii":1.8},{"x":56,"i":86.3,"ii":45.8,"iii":3.8},{"x":56.5,"i":81.3,"ii":48.3,"iii":2.3},{"x":57,"i":85.3,"ii":43.8,"iii":3.8},{"x":57.5,"i":83.3,"ii":47.8,"iii":2.3},
{"x":58,"i":86.8,"ii":45.3,"iii":4.3},{"x":58.5,"i":82.3,"ii":48.3,"iii":1.8},{"x":59,"i":86.3,"ii":44.5,"iii":3.3},{"x":59.5,"i":82.3,"ii":49,"iii":1.8},{"x":60,"i":86,"ii":46.5,"iii":4.7},{"x":60.5,"i":85.5,"ii":51,"iii":5.5},{"x":61,"i":92,"ii":50,"iii":8},{"x":61.5,"i":87,"ii":50,"iii":5},{"x":62,"i":87.5,"ii":46,"iii":4.5},{"x":62.5,"i":82.5,"ii":49,"iii":2},
{"x":63,"i":84.5,"ii":43.5,"iii":3.5},{"x":63.5,"i":82.5,"ii":46.5,"iii":1.7},{"x":64,"i":86,"ii":45,"iii":3.7},{"x":64.5,"i":81,"ii":47.5,"iii":1.2},{"x":65,"i":85,"ii":43,"iii":2.7},{"x":65.5,"i":83,"ii":47,"iii":1.2},{"x":66,"i":86.5,"ii":44.5,"iii":3.4},{"x":66.5,"i":82,"ii":47.5,"iii":1.4},{"x":67,"i":86,"ii":43.5,"iii":2.5},{"x":67.5,"i":82,"ii":48,"iii":1.2},
{"x":68,"i":85,"ii":44.5,"iii":3.2},{"x":68.5,"i":81.5,"ii":47.5,"iii":1.7},{"x":69,"i":86.5,"ii":42.5,"iii":3.2},{"x":69.5,"i":83,"ii":46.5,"iii":1.7},{"x":70,"i":85.5,"ii":44,"iii":3.7},{"x":70.5,"i":82,"ii":48.5,"iii":1.2},{"x":71,"i":84.5,"ii":43.5,"iii":2.7},{"x":71.5,"i":82.5,"ii":46.5,"iii":1.2},{"x":72,"i":86,"ii":45,"iii":3.4},{"x":72.5,"i":80,"ii":46.5,"iii":1.4},
{"x":73,"i":84,"ii":42,"iii":2.5},{"x":73.5,"i":82,"ii":46,"iii":1.2},{"x":74,"i":85.5,"ii":43.5,"iii":3.2},{"x":74.5,"i":81,"ii":46.5,"iii":1.7},{"x":75,"i":85,"ii":42.5,"iii":3.2},{"x":75.5,"i":81,"ii":47,"iii":1.7},{"x":76,"i":84,"ii":43.5,"iii":3.3},{"x":76.5,"i":80.5,"ii":46.5,"iii":0.8},{"x":77,"i":85.5,"ii":41.5,"iii":2.3},{"x":77.5,"i":82,"ii":45.5,"iii":0.8},
{"x":78,"i":84.5,"ii":43,"iii":3},{"x":78.5,"i":81,"ii":47.5,"iii":1},{"x":79,"i":83.5,"ii":42.5,"iii":2.1},{"x":79.5,"i":81.5,"ii":45.5,"iii":0.8},{"x":80,"i":85,"ii":44,"iii":2.8},{"x":80.5,"i":80,"ii":46.5,"iii":1.3},{"x":81,"i":84,"ii":42,"iii":2.8},{"x":81.5,"i":82,"ii":46,"iii":1.3},{"x":82,"i":84.8,"ii":42.8,"iii":3.3},{"x":82.5,"i":80.3,"ii":45.8,"iii":0.8},
{"x":83,"i":84.3,"ii":41.8,"iii":2.3},{"x":83.5,"i":80.3,"ii":46.3,"iii":0.8},{"x":84,"i":83.3,"ii":42.8,"iii":3},{"x":84.5,"i":79.8,"ii":45.8,"iii":1},{"x":85,"i":84.8,"ii":40.8,"iii":2.1},{"x":85.5,"i":81.3,"ii":44.8,"iii":0.8},{"x":86,"i":83.8,"ii":42.3,"iii":2.8},{"x":86.5,"i":80.3,"ii":46.8,"iii":1.3},{"x":87,"i":82.8,"ii":41.8,"iii":2.8},{"x":87.5,"i":80.8,"ii":44.8,"iii":1.3},
{"x":88,"i":84.3,"ii":43.3,"iii":3.3},{"x":88.5,"i":79.3,"ii":45.8,"iii":0.8},{"x":89,"i":83.3,"ii":41.3,"iii":2.3},{"x":89.5,"i":81.3,"ii":45.3,"iii":0.8},{"x":90,"i":84.8,"ii":42.8,"iii":3}
],
"pkA": [{"x":7.5,"y":100,"t":"(003)"},{"x":23.8,"y":92,"t":"(006)"},{"x":35.5,"y":93.4,"t":"(012)"},{"x":60.7,"y":90.3,"t":"(110)"},{"x":6.7,"y":71.1,"t":"(003)"},{"x":15.1,"y":60.5,"t":"(006)"},{"x":22.8,"y":60.7,"t":"(009)"},{"x":36.2,"y":55.8,"t":"(012)"},{"x":63.3,"y":55.2,"t":"(110)"},{"x":7.6,"y":31.6,"t":"(003)"},{"x":20,"y":20.6,"t":"(006)"},{"x":34.8,"y":10.8,"t":"(012)"},{"x":62.4,"y":12.7,"t":"(110)"}],
"pkB": [{"x":7.3,"y":100.4,"t":"(003)"},{"x":23.2,"y":94.4,"t":"(006)"},{"x":35.9,"y":95,"t":"(012)"},{"x":60.8,"y":91.2,"t":"(110)"},{"x":7.6,"y":69.8,"t":"(003)"},{"x":15.4,"y":60,"t":"(006)"},{"x":22.7,"y":56.7,"t":"(009)"},{"x":36.5,"y":55.3,"t":"(012)"},{"x":61,"y":53.1,"t":"(110)"},{"x":6.8,"y":29.1,"t":"(003)"},{"x":19.8,"y":19.6,"t":"(006)"},{"x":34.5,"y":11,"t":"(012)"},{"x":60.2,"y":10.2,"t":"(110)"}],
"pkC": [{"x":7.8,"y":97.8,"t":"(003)"},{"x":23,"y":94.8,"t":"(006)"},{"x":35.3,"y":98,"t":"(012)"},{"x":60,"y":94,"t":"(110)"},{"x":6.7,"y":69.5,"t":"(003)"},{"x":15.7,"y":60.2,"t":"(006)"},{"x":23.5,"y":61,"t":"(009)"},{"x":35.8,"y":55.8,"t":"(012)"},{"x":62,"y":55.2,"t":"(110)"},{"x":7.2,"y":23.4,"t":"(003)"},{"x":19.7,"y":16.8,"t":"(006)"},{"x":36.3,"y":11.9,"t":"(012)"},{"x":61.4,"y":11.3,"t":"(110)"}],
"pkD": [{"x":7.9,"y":100.2,"t":"(003)"},{"x":23.1,"y":98,"t":"(006)"},{"x":34.8,"y":97.5,"t":"(012)"},{"x":60.8,"y":94.5,"t":"(110)"},{"x":7.2,"y":67.9,"t":"(003)"},{"x":15.4,"y":59.4,"t":"(006)"},{"x":24.5,"y":61.3,"t":"(009)"},{"x":36.6,"y":55.6,"t":"(012)"},{"x":61.7,"y":57.2,"t":"(110)"},{"x":7.2,"y":25,"t":"(003)"},{"x":19.8,"y":18.8,"t":"(006)"},{"x":35.4,"y":11.6,"t":"(012)"},{"x":61.7,"y":11.9,"t":"(110)"}],
"rnA": [{"x":85.2,"y":86,"t":"i."},{"x":85.7,"y":49.2,"t":"ii."},{"x":85.7,"y":7.6,"t":"iii"}],
"rnB": [{"x":86,"y":87.5,"t":"i."},{"x":86.6,"y":50.6,"t":"ii."},{"x":86.6,"y":9.3,"t":"iii"}],
"rnC": [{"x":86,"y":88.3,"t":"i."},{"x":86,"y":52.5,"t":"ii."},{"x":86,"y":7.5,"t":"iii."}],
"rnD": [{"x":84.5,"y":90.3,"t":"i."}],
"rnDs": [{"x":85.4,"y":50.3,"t":"ii."},{"x":85.1,"y":5.8,"t":"iii."}]
},
"concat": [
{"width": 500, "height": 334, "layer": [
{"data": {"name": "a"}, "transform": [{"fold": ["iii","ii","i"], "as": ["series","val"]}], "mark": {"type": "line", "strokeWidth": 1.4, "clip": true}, "encoding": {"x": {"field": "x", "type": "quantitative", "scale": {"domain": [3,90], "nice": false, "zero": false}, "axis": {"orient": "bottom", "values": [10,20,30,40,50,60,70,80,90], "ticks": false, "labelFont": "DejaVu Sans", "labelFontSize": 15, "labelFontWeight": "bold", "labelColor": "#000", "labelPadding": 11, "title": "2 θ (degree)/ CuK α", "titleFont": "DejaVu Sans", "titleFontSize": 20.5, "titleFontWeight": "normal", "titleColor": "#000", "titlePadding": 2}}, "y": {"field": "val", "type": "quantitative", "scale": {"domain": [0,110], "nice": false, "zero": false}, "axis": {"orient": "left", "values": [0,10,20,30,40,50,60,70,80,90,100,110], "labels": false, "tickSize": -4, "title": "Intensity (arb.unit)", "titleFont": "DejaVu Sans", "titleFontSize": 22, "titleFontWeight": "normal", "titleColor": "#000", "titlePadding": 8}}, "color": {"field": "series", "type": "nominal", "scale": {"domain": ["i","ii","iii"], "range": ["#0000ff","#ff0000","#000000"]}, "legend": null}}},
{"data": {"values": [{"x": 10}]}, "mark": {"type": "rule", "strokeDash": [5,4], "strokeWidth": 1.3, "color": "#000"}, "encoding": {"x": {"field": "x", "type": "quantitative", "scale": {"domain": [3,90], "nice": false, "zero": false}, "axis": {"orient": "top", "values": [5,10,15,20,25,30,35,40,45,50,55,60,65,70,75,80,85,90], "labels": false, "tickSize": -4, "title": null}}}},
{"data": {"name": "pkA"}, "mark": {"type": "text", "angle": -45, "font": "Liberation Serif", "fontWeight": "bold", "fontSize": 22, "align": "center", "baseline": "middle", "color": "#000"}, "encoding": {"x": {"field": "x", "type": "quantitative", "scale": {"domain": [3,90], "nice": false, "zero": false}, "axis": null}, "y": {"field": "y", "type": "quantitative", "scale": {"domain": [0,110], "nice": false, "zero": false}, "axis": null}, "text": {"field": "t"}}},
{"data": {"name": "rnA"}, "mark": {"type": "text", "font": "DejaVu Sans", "fontWeight": "bold", "fontSize": 17, "align": "center", "baseline": "middle", "color": "#000"}, "encoding": {"x": {"field": "x", "type": "quantitative", "scale": {"domain": [3,90], "nice": false, "zero": false}, "axis": null}, "y": {"field": "y", "type": "quantitative", "scale": {"domain": [0,110], "nice": false, "zero": false}, "axis": {"orient": "right", "values": [0,10,20,30,40,50,60,70,80,90,100,110], "labels": false, "tickSize": -4, "title": null}}, "text": {"field": "t"}}},
{"data": {"values": [{"x": 89.5, "y": 103, "t": "a) 0.5mM Co−LDH"}]}, "mark": {"type": "text", "font": "DejaVu Sans", "fontSize": 19, "align": "right", "baseline": "middle", "color": "#000"}, "encoding": {"x": {"field": "x", "type": "quantitative", "scale": {"domain": [3,90], "nice": false, "zero": false}, "axis": null}, "y": {"field": "y", "type": "quantitative", "scale": {"domain": [0,110], "nice": false, "zero": false}, "axis": null}, "text": {"field": "t"}}}
], "resolve": {"axis": {"x": "independent", "y": "independent"}}},
{"width": 500, "height": 334, "layer": [
{"data": {"name": "b"}, "transform": [{"fold": ["iii","ii","i"], "as": ["series","val"]}], "mark": {"type": "line", "strokeWidth": 1.4, "clip": true}, "encoding": {"x": {"field": "x", "type": "quantitative", "scale": {"domain": [3,90], "nice": false, "zero": false}, "axis": {"orient": "bottom", "values": [10,20,30,40,50,60,70,80,90], "ticks": false, "labelFont": "DejaVu Sans", "labelFontSize": 15, "labelFontWeight": "bold", "labelColor": "#000", "labelPadding": 11, "title": "2 θ (degree)/ CuK α", "titleFont": "DejaVu Sans", "titleFontSize": 20.5, "titleFontWeight": "normal", "titleColor": "#000", "titlePadding": 2}}, "y": {"field": "val", "type": "quantitative", "scale": {"domain": [0,110], "nice": false, "zero": false}, "axis": {"orient": "left", "values": [0,10,20,30,40,50,60,70,80,90,100,110], "labels": false, "tickSize": -4, "title": "Intensity (arb.unit)", "titleFont": "DejaVu Sans", "titleFontSize": 22, "titleFontWeight": "normal", "titleColor": "#000", "titlePadding": 8}}, "color": {"field": "series", "type": "nominal", "scale": {"domain": ["i","ii","iii"], "range": ["#0000ff","#ff0000","#000000"]}, "legend": null}}},
{"data": {"values": [{"x": 10}]}, "mark": {"type": "rule", "strokeDash": [5,4], "strokeWidth": 1.3, "color": "#000"}, "encoding": {"x": {"field": "x", "type": "quantitative", "scale": {"domain": [3,90], "nice": false, "zero": false}, "axis": {"orient": "top", "values": [5,10,15,20,25,30,35,40,45,50,55,60,65,70,75,80,85,90], "labels": false, "tickSize": -4, "title": null}}}},
{"data": {"name": "pkB"}, "mark": {"type": "text", "angle": -45, "font": "Liberation Serif", "fontWeight": "bold", "fontSize": 22, "align": "center", "baseline": "middle", "color": "#000"}, "encoding": {"x": {"field": "x", "type": "quantitative", "scale": {"domain": [3,90], "nice": false, "zero": false}, "axis": null}, "y": {"field": "y", "type": "quantitative", "scale": {"domain": [0,110], "nice": false, "zero": false}, "axis": null}, "text": {"field": "t"}}},
{"data": {"name": "rnB"}, "mark": {"type": "text", "font": "DejaVu Sans", "fontWeight": "bold", "fontSize": 17, "align": "center", "baseline": "middle", "color": "#000"}, "encoding": {"x": {"field": "x", "type": "quantitative", "scale": {"domain": [3,90], "nice": false, "zero": false}, "axis": null}, "y": {"field": "y", "type": "quantitative", "scale": {"domain": [0,110], "nice": false, "zero": false}, "axis": {"orient": "right", "values": [0,10,20,30,40,50,60,70,80,90,100,110], "labels": false, "tickSize": -4, "title": null}}, "text": {"field": "t"}}},
{"data": {"values": [{"x": 87.2, "y": 103, "t": "b) 1mM Co−LDH"}]}, "mark": {"type": "text", "font": "DejaVu Sans", "fontSize": 19, "align": "right", "baseline": "middle", "color": "#000"}, "encoding": {"x": {"field": "x", "type": "quantitative", "scale": {"domain": [3,90], "nice": false, "zero": false}, "axis": null}, "y": {"field": "y", "type": "quantitative", "scale": {"domain": [0,110], "nice": false, "zero": false}, "axis": null}, "text": {"field": "t"}}}
], "resolve": {"axis": {"x": "independent", "y": "independent"}}},
{"width": 500, "height": 334, "layer": [
{"data": {"name": "c"}, "transform": [{"fold": ["iii","ii","i"], "as": ["series","val"]}], "mark": {"type": "line", "strokeWidth": 1.4, "clip": true}, "encoding": {"x": {"field": "x", "type": "quantitative", "scale": {"domain": [3,90], "nice": false, "zero": false}, "axis": {"orient": "bottom", "values": [10,20,30,40,50,60,70,80,90], "ticks": false, "labelFont": "DejaVu Sans", "labelFontSize": 15, "labelFontWeight": "bold", "labelColor": "#000", "labelPadding": 11, "title": "2 θ (degree)/ CuK α", "titleFont": "DejaVu Sans", "titleFontSize": 20.5, "titleFontWeight": "normal", "titleColor": "#000", "titlePadding": 2}}, "y": {"field": "val", "type": "quantitative", "scale": {"domain": [0,110], "nice": false, "zero": false}, "axis": {"orient": "left", "values": [0,10,20,30,40,50,60,70,80,90,100,110], "labels": false, "tickSize": -4, "title": "Intensity (arb.unit)", "titleFont": "DejaVu Sans", "titleFontSize": 22, "titleFontWeight": "normal", "titleColor": "#000", "titlePadding": 8}}, "color": {"field": "series", "type": "nominal", "scale": {"domain": ["i","ii","iii"], "range": ["#0000ff","#ff0000","#000000"]}, "legend": null}}},
{"data": {"values": [{"x": 10}]}, "mark": {"type": "rule", "strokeDash": [5,4], "strokeWidth": 1.3, "color": "#000"}, "encoding": {"x": {"field": "x", "type": "quantitative", "scale": {"domain": [3,90], "nice": false, "zero": false}, "axis": {"orient": "top", "values": [5,10,15,20,25,30,35,40,45,50,55,60,65,70,75,80,85,90], "labels": false, "tickSize": -4, "title": null}}}},
{"data": {"name": "pkC"}, "mark": {"type": "text", "angle": -45, "font": "Liberation Serif", "fontWeight": "bold", "fontSize": 22, "align": "center", "baseline": "middle", "color": "#000"}, "encoding": {"x": {"field": "x", "type": "quantitative", "scale": {"domain": [3,90], "nice": false, "zero": false}, "axis": null}, "y": {"field": "y", "type": "quantitative", "scale": {"domain": [0,110], "nice": false, "zero": false}, "axis": null}, "text": {"field": "t"}}},
{"data": {"name": "rnC"}, "mark": {"type": "text", "font": "DejaVu Sans", "fontWeight": "bold", "fontSize": 17, "align": "center", "baseline": "middle", "color": "#000"}, "encoding": {"x": {"field": "x", "type": "quantitative", "scale": {"domain": [3,90], "nice": false, "zero": false}, "axis": null}, "y": {"field": "y", "type": "quantitative", "scale": {"domain": [0,110], "nice": false, "zero": false}, "axis": {"orient": "right", "values": [0,10,20,30,40,50,60,70,80,90,100,110], "labels": false, "tickSize": -4, "title": null}}, "text": {"field": "t"}}},
{"data": {"values": [{"x": 89.5, "y": 101.9, "t": "c) 2mM Co−LDH"}]}, "mark": {"type": "text", "font": "DejaVu Sans", "fontSize": 19, "align": "right", "baseline": "middle", "color": "#000"}, "encoding": {"x": {"field": "x", "type": "quantitative", "scale": {"domain": [3,90], "nice": false, "zero": false}, "axis": null}, "y": {"field": "y", "type": "quantitative", "scale": {"domain": [0,110], "nice": false, "zero": false}, "axis": null}, "text": {"field": "t"}}}
], "resolve": {"axis": {"x": "independent", "y": "independent"}}},
{"width": 500, "height": 334, "layer": [
{"data": {"name": "d"}, "transform": [{"fold": ["iii","ii","i"], "as": ["series","val"]}], "mark": {"type": "line", "strokeWidth": 1.4, "clip": true}, "encoding": {"x": {"field": "x", "type": "quantitative", "scale": {"domain": [3,90], "nice": false, "zero": false}, "axis": {"orient": "bottom", "values": [10,20,30,40,50,60,70,80,90], "ticks": false, "labelFont": "DejaVu Sans", "labelFontSize": 15, "labelFontWeight": "bold", "labelColor": "#000", "labelPadding": 11, "title": "2 θ (degree)/ CuK α", "titleFont": "DejaVu Sans", "titleFontSize": 20.5, "titleFontWeight": "normal", "titleColor": "#000", "titlePadding": 2}}, "y": {"field": "val", "type": "quantitative", "scale": {"domain": [0,110], "nice": false, "zero": false}, "axis": {"orient": "left", "values": [0,10,20,30,40,50,60,70,80,90,100,110], "labels": false, "tickSize": -4, "title": "Intensity (arb.unit)", "titleFont": "DejaVu Sans", "titleFontSize": 22, "titleFontWeight": "normal", "titleColor": "#000", "titlePadding": 8}}, "color": {"field": "series", "type": "nominal", "scale": {"domain": ["i","ii","iii"], "range": ["#0000ff","#ff0000","#000000"]}, "legend": null}}},
{"data": {"values": [{"x": 10}]}, "mark": {"type": "rule", "strokeDash": [5,4], "strokeWidth": 1.8, "color": "#000"}, "encoding": {"x": {"field": "x", "type": "quantitative", "scale": {"domain": [3,90], "nice": false, "zero": false}, "axis": {"orient": "top", "values": [5,10,15,20,25,30,35,40,45,50,55,60,65,70,75,80,85,90], "labels": false, "tickSize": -4, "title": null}}}},
{"data": {"name": "pkD"}, "mark": {"type": "text", "angle": -45, "font": "Liberation Serif", "fontWeight": "bold", "fontSize": 22, "align": "center", "baseline": "middle", "color": "#000"}, "encoding": {"x": {"field": "x", "type": "quantitative", "scale": {"domain": [3,90], "nice": false, "zero": false}, "axis": null}, "y": {"field": "y", "type": "quantitative", "scale": {"domain": [0,110], "nice": false, "zero": false}, "axis": null}, "text": {"field": "t"}}},
{"data": {"name": "rnD"}, "mark": {"type": "text", "font": "DejaVu Sans", "fontWeight": "bold", "fontSize": 17, "align": "center", "baseline": "middle", "color": "#000"}, "encoding": {"x": {"field": "x", "type": "quantitative", "scale": {"domain": [3,90], "nice": false, "zero": false}, "axis": null}, "y": {"field": "y", "type": "quantitative", "scale": {"domain": [0,110], "nice": false, "zero": false}, "axis": {"orient": "right", "values": [0,10,20,30,40,50,60,70,80,90,100,110], "labels": false, "tickSize": -4, "title": null}}, "text": {"field": "t"}}},
{"data": {"name": "rnDs"}, "mark": {"type": "text", "font": "DejaVu Sans", "fontWeight": "bold", "fontSize": 12, "align": "center", "baseline": "middle", "color": "#000"}, "encoding": {"x": {"field": "x", "type": "quantitative", "scale": {"domain": [3,90], "nice": false, "zero": false}, "axis": null}, "y": {"field": "y", "type": "quantitative", "scale": {"domain": [0,110], "nice": false, "zero": false}, "axis": null}, "text": {"field": "t"}}},
{"data": {"values": [{"x": 87, "y": 103, "t": "d) 4mM Co−LDH"}]}, "mark": {"type": "text", "font": "DejaVu Sans", "fontSize": 19, "align": "right", "baseline": "middle", "color": "#000"}, "encoding": {"x": {"field": "x", "type": "quantitative", "scale": {"domain": [3,90], "nice": false, "zero": false}, "axis": null}, "y": {"field": "y", "type": "quantitative", "scale": {"domain": [0,110], "nice": false, "zero": false}, "axis": null}, "text": {"field": "t"}}}
], "resolve": {"axis": {"x": "independent", "y": "independent"}}}
],
"columns": 2,
"spacing": {"row": 81, "column": 78},
"bounds": "flush"
}
